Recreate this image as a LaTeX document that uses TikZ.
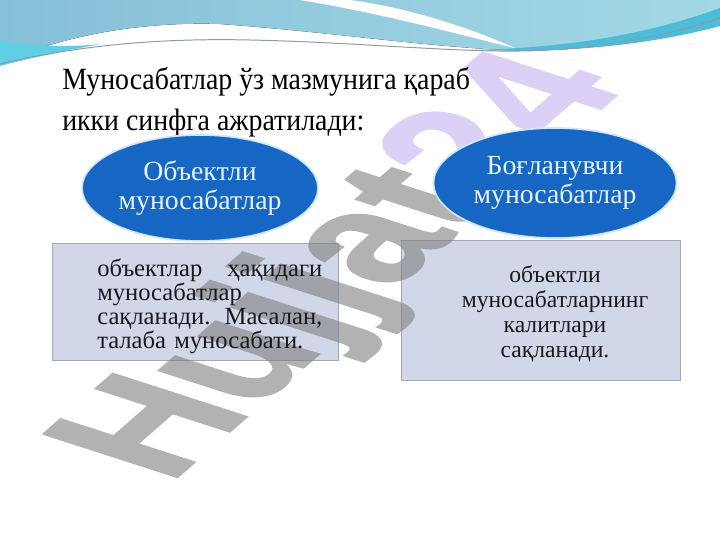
\documentclass[tikz,border=0pt]{standalone}
\usepackage{fontspec}
\setmainfont{Liberation Serif}
\newfontfamily\headfont{Liberation Serif}[FakeStretch=0.9]
\newfontfamily\markfont{Liberation Sans Bold}[FakeBold=1.5]
\usepackage{tikz}
\usetikzlibrary{shapes.geometric}
\usetikzlibrary{positioning}

\definecolor{skyblue}{HTML}{86BFD9}
\definecolor{paleblue}{HTML}{A3D9E5}
\definecolor{wavecyan}{HTML}{5FCFE6}
\definecolor{waveteal}{HTML}{4BBCD9}
\definecolor{waveline}{HTML}{909AA0}
\definecolor{ellblue}{HTML}{1666C4}
\definecolor{ellrim}{HTML}{CFE6F7}
\definecolor{elltext}{HTML}{E8F3FF}
\definecolor{boxfill}{HTML}{D1D7E8}
\definecolor{boxrim}{HTML}{A4A8B4}
\definecolor{markgray}{HTML}{7F7F7F}
\definecolor{marklilac}{HTML}{C5B2F0}

\tikzset{
  headline/.style={font=\headfont\fontsize{22}{28}\selectfont, anchor=base west, inner sep=0pt},
  bluecloud/.style={ellipse, fill=ellblue, draw=ellrim, line width=1.2pt, text=elltext,
    align=center, inner sep=0pt, font=\fontsize{19.7}{20.5}\selectfont},
  notebox/.style={rectangle, fill=boxfill, draw=boxrim, line width=0.6pt, inner sep=0pt},
  notetext/.style={inner sep=0pt, text=black!90},
  stamp/.style={font=\markfont\fontsize{111}{111}\selectfont, inner sep=0pt,
    anchor=base west, transform shape}
}

\begin{document}
\begin{tikzpicture}[x=0.025cm, y=-0.025cm]
  \useasboundingbox[fill=white] (0,0) rectangle (720,540);

  \fill[left color=skyblue, right color=paleblue]
    (0,0) -- (720,0) -- (720,22) .. controls (640,45) and (570,52) .. (505,50)
    .. controls (420,46) and (330,32) .. (220,24) .. controls (130,21) and (50,40) .. (0,64) -- cycle;
  \fill[wavecyan] (0,40) .. controls (30,46) and (60,48) .. (100,44)
    .. controls (60,52) and (30,58) .. (0,66) -- cycle;
  \fill[waveteal] (470,50) .. controls (580,48) and (660,30) .. (720,8) -- (720,26)
    .. controls (660,42) and (580,54) .. (470,50) -- cycle;
  \fill[white] (300,0) .. controls (390,15) and (460,35) .. (515,48)
    .. controls (470,28) and (410,8) .. (350,0) -- cycle;
  \draw[waveline, line width=0.7pt] (0,64) .. controls (80,45) and (160,38) .. (250,40)
    .. controls (350,42) and (450,52) .. (520,51) .. controls (600,50) and (670,35) .. (720,18);

  \node[notebox, minimum width=7.15cm, minimum height=2.925cm] (box1) at (195,301.5) {};
  \node[notebox, minimum width=6.975cm, minimum height=3.5cm] (box2) at (540.5,310) {};

  \begin{scope}[transparency group, opacity=0.6]
    \begin{scope}[shift={(169,484)}, cm={0.755,0.656,-1.24,0.40,(0,0)}]
      \node[stamp] (mark) at (0,0) {\textcolor{markgray}{Hujjat}\textcolor{marklilac}{24}};
    \end{scope}
  \end{scope}

  \node[headline] (line1) at (62,89.5) {Муносабатлар ўз мазмунига қараб};
  \node[headline] (line2) at (62,130) {икки синфга ажратилади:};

  \node[bluecloud, minimum width=5.9cm, minimum height=2.65cm] (kind1) at (200,188)
    {Объектли\\муносабатлар};
  \node[bluecloud, minimum width=6.075cm, minimum height=2.75cm] (kind2) at (555,183)
    {Боғланувчи\\муносабатлар};

  \node[notetext, font=\fontsize{17.5}{17}\selectfont, text width=5.625cm, align=left,
    anchor=north west] (body1) at (97,258.7)
    {объектлар\hfill ҳақидаги\\муносабатлар\\сақланади.\hfill Масалан,\\талаба муносабати.};
  \node[notetext, font=\fontsize{16.8}{17.8}\selectfont, align=center, anchor=north]
    (body2) at (555,265)
    {объектли\\муносабатларнинг\\калитлари\\сақланади.};
\end{tikzpicture}
\end{document}
